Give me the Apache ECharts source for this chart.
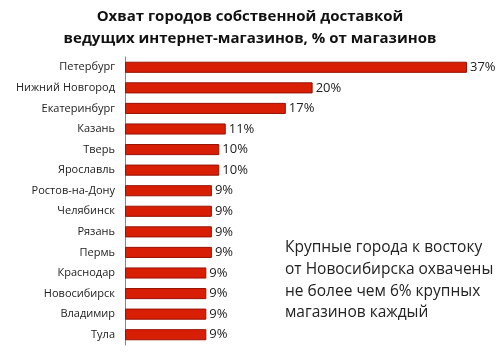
<!DOCTYPE html>
<html><head><meta charset="utf-8">
<script src="https://cdn.jsdelivr.net/npm/echarts@6/dist/echarts.min.js"></script>
<style>html,body{margin:0;padding:0;background:#fff}#c{width:500px;height:358px}</style>
</head><body><div id="c"></div>
<script>
const cities = ["Петербург","Нижний Новгород","Екатеринбург","Казань","Тверь","Ярославль","Ростов-на-Дону","Челябинск","Рязань","Пермь","Краснодар","Новосибирск","Владимир","Тула"];
const values = [37, 20.3, 17.4, 10.9, 10.2, 10.2, 9.4, 9.4, 9.4, 9.4, 8.8, 8.8, 8.8, 8.8];
const labels = ["37%","20%","17%","11%","10%","10%","9%","9%","9%","9%","9%","9%","9%","9%"];
const titleLines = ["Охват городов собственной доставкой","ведущих интернет-магазинов, % от магазинов"];
const noteLines = ["Крупные города к востоку","от Новосибирска охвачены","не более чем 6% крупных","магазинов каждый"];
const font = "'Open Sans', sans-serif";
const chart = echarts.init(document.getElementById('c'));
chart.setOption({
  animation:false,
  title:{text:titleLines.join('\n'),left:'center',top:1,textStyle:{fontFamily:font,fontSize:15,fontWeight:'bold',color:'#111',lineHeight:22}},
  grid:{left:125,top:57,width:342,height:288},
  xAxis:{type:'value',min:0,max:37,show:false},
  yAxis:{type:'category',inverse:true,data:cities,
    axisLine:{show:true,lineStyle:{color:'#888',width:1}},axisTick:{show:false},
    axisLabel:{fontFamily:font,fontSize:11,color:'#222',margin:10}},
  series:[{type:'bar',data:values,barCategoryGap:'46%',
    itemStyle:{color:'#d81e05',borderColor:'#961406',borderWidth:1},
    label:{show:true,position:'right',distance:3,fontFamily:font,fontSize:13,color:'#222',
      formatter:p=>labels[p.dataIndex]}}],
  graphic:[{type:'text',left:285,top:237,style:{text:noteLines.join('\n'),fontFamily:font,fontSize:15.5,lineHeight:21.7,fill:'#222'}}]
});
</script></body></html>
